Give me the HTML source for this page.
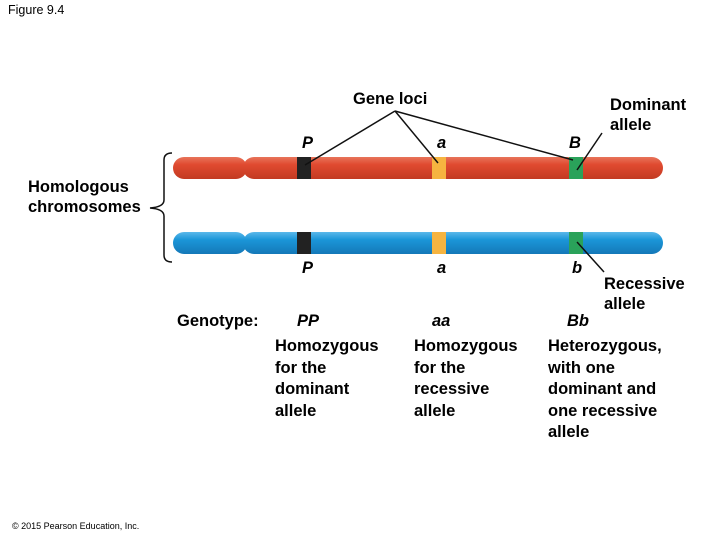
<html><body style="margin:0;width:720px;height:540px;background:#fff;position:relative;font-family:'Liberation Sans',sans-serif;overflow:hidden">
<svg width="720" height="540" style="position:absolute;left:0;top:0">
<defs>
<linearGradient id="r" x1="0" y1="0" x2="0" y2="1"><stop offset="0" stop-color="#e8745a"/><stop offset="0.35" stop-color="#e04a30"/><stop offset="1" stop-color="#c23a22"/></linearGradient>
<linearGradient id="b" x1="0" y1="0" x2="0" y2="1"><stop offset="0" stop-color="#5ab8ea"/><stop offset="0.35" stop-color="#1b96d8"/><stop offset="1" stop-color="#1478b8"/></linearGradient>
</defs>
<g>
<rect x="173" y="157" width="74" height="22" rx="11" fill="url(#r)"/>
<rect x="243" y="157" width="420" height="22" rx="11" fill="url(#r)"/>
<rect x="297" y="157" width="14" height="22" fill="#222"/>
<rect x="432" y="157" width="14" height="22" fill="#f6b440"/>
<rect x="569" y="157" width="14" height="22" fill="#2aa25a"/>
<rect x="173" y="232" width="74" height="22" rx="11" fill="url(#b)"/>
<rect x="243" y="232" width="420" height="22" rx="11" fill="url(#b)"/>
<rect x="297" y="232" width="14" height="22" fill="#222"/>
<rect x="432" y="232" width="14" height="22" fill="#f6b440"/>
<rect x="569" y="232" width="14" height="22" fill="#2aa25a"/>
</g>
<g stroke="#111" stroke-width="1.5" fill="none">
<line x1="395" y1="111" x2="305" y2="165"/>
<line x1="395" y1="111" x2="438" y2="163"/>
<line x1="395" y1="111" x2="573" y2="160"/>
<line x1="602" y1="133" x2="577" y2="170"/>
<line x1="577" y1="242" x2="604" y2="272"/>
<path d="M172 153 Q164 153 164 160 L164 200 Q164 207 150 208 Q164 209 164 216 L164 255 Q164 262 172 262"/>
</g>
</svg>
<div style="font-weight:bold;font-size:16.5px">
<div style="position:absolute;left:353px;top:90px">Gene loci</div>
<div style="position:absolute;left:610px;top:95px;line-height:20px">Dominant<br>allele</div>
<div style="position:absolute;left:302px;top:134px;font-style:italic">P</div>
<div style="position:absolute;left:437px;top:134px;font-style:italic">a</div>
<div style="position:absolute;left:569px;top:134px;font-style:italic">B</div>
<div style="position:absolute;left:28px;top:177px;line-height:20px">Homologous<br>chromosomes</div>
<div style="position:absolute;left:302px;top:259px;font-style:italic">P</div>
<div style="position:absolute;left:437px;top:259px;font-style:italic">a</div>
<div style="position:absolute;left:572px;top:259px;font-style:italic">b</div>
<div style="position:absolute;left:604px;top:274px;line-height:20px">Recessive<br>allele</div>
<div style="position:absolute;left:177px;top:312px">Genotype:</div>
<div style="position:absolute;left:297px;top:312px;font-style:italic">PP</div>
<div style="position:absolute;left:432px;top:312px;font-style:italic">aa</div>
<div style="position:absolute;left:567px;top:312px;font-style:italic">Bb</div>
<div style="position:absolute;left:275px;top:336px;line-height:21.5px">Homozygous<br>for the<br>dominant<br>allele</div>
<div style="position:absolute;left:414px;top:336px;line-height:21.5px">Homozygous<br>for the<br>recessive<br>allele</div>
<div style="position:absolute;left:548px;top:336px;line-height:21.5px">Heterozygous,<br>with one<br>dominant and<br>one recessive<br>allele</div>
</div>
<div style="position:absolute;left:8px;top:3px;font-size:12.5px">Figure 9.4</div>
<div style="position:absolute;left:12px;top:521px;font-size:9px">© 2015 Pearson Education, Inc.</div>
</body></html>
